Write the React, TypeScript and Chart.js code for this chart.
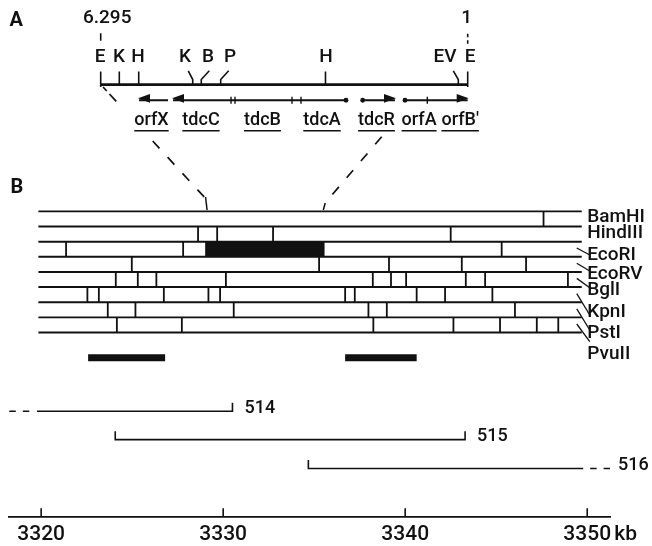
import { useEffect, useRef } from "react";
import { Chart, registerables } from "chart.js";

Chart.register(...registerables);

// ---------------- Panel B : genomic coordinate (kb) ----------------
const AXIS_TICKS = [3320, 3330, 3340, 3350];
const AXIS_UNIT = "kb";
const ENZYMES = ["BamHI", "HindIII", "EcoRI", "EcoRV", "BglI", "KpnI", "PstI", "PvuII"];
const MAP_SPAN = [3319.85, 3349.7];
const BAMHI = [3347.6];
const HINDIII = [3328.62, 3329.67, 3332.74, 3342.5];
const ECORI = [3321.37, 3327.8, 3329.06, 3335.52, 3345.3];
const ECORV = [3324.98, 3335.27, 3339.11, 3343.11, 3346.64];
const BGLI = [3324.1, 3325.31, 3326.33, 3330.15, 3338.22, 3339.22, 3340.05, 3343.33, 3344.39, 3348.94];
const KPNI = [3322.54, 3323.17, 3326.74, 3329.19, 3329.83, 3336.7, 3337.23, 3340.63, 3342.19, 3344.79];
const PSTI = [3323.66, 3325.18, 3330.58, 3337.98, 3338.99, 3346.03];
const PVUII = [3324.16, 3327.73, 3338.25, 3342.65, 3345.21, 3347.23, 3348.41];
const SITES_BY_ENZYME = [BAMHI, HINDIII, ECORI, ECORV, BGLI, KPNI, PSTI, PVUII];
const TDC_FRAGMENT = [3329.06, 3335.52]; // 6.295 kb EcoRI fragment (filled)
const PROBES = [[3322.58, 3326.81], [3336.7, 3340.63]];
const CLONES = ["514", "515", "516"];
const CLONE_SPANS = [[3319.77, 3330.51], [3324.07, 3343.29], [3334.68, 3349.78]];
const CLONE_EXTENSIONS: (number[] | null)[] = [[3318.25, 3319.4], null, [3350.16, 3351.25]];

// ---------------- Panel A : 6.295 kb fragment (bp, 6295 -> 1) ----------------
const FRAGMENT_BP = [6295, 1];
const FRAGMENT_END_LABELS = ["6.295", "1"];
const SITE_NAMES = ["E", "K", "H", "K", "B", "P", "H", "EV", "E"];
const SITE_BP = [6295, 5976, 5643, 4717, 4570, 4237, 2440, 162, 1];
const SITE_LABEL_BP = [6307, 5981, 5655, 4849, 4455, 4078, 2431, 390, -39];
const SITE_TICK_TOP_BP = [6295, 5976, 5643, 4793, 4433, 4100, 2440, 248, 1];
const GENES = ["orfX", "tdcC", "tdcB", "tdcA", "tdcR", "orfA", "orfB\u2032"];
const GENE_LABEL_BP = [5424, 4575, 3520, 2500, 1565, 835, 130];
const TRANSCRIPT_FROM = [5141, 2088, 1802, 1076];
const TRANSCRIPT_TO = [5638, 5055, 1248, 1];
const TRANSCRIPT_DOT = [false, true, true, true];
const GENE_BOUNDARIES = [4060, 3992, 3014, 2860, 694];
const CONNECTOR_FROM_BP = [6255, 1476];

// ---------------- layout (pixels) ----------------
const W = 652;
const H = 546;
const AXIS_Y = 516.7;
const PAD_LEFT = 9.3;
const PAD_RIGHT = 41.3;
const X_RANGE = [3318.25, 3351.29];
const XA_RANGE = [-2451.4, 7862.5];
const INK = "#111";
const FONT = 'Roboto, "Liberation Sans", sans-serif';
const WEIGHT = "500";
const Y = {
  endLabel: 18,
  endTickTop: 31,
  endTickBottom: 38.5,
  siteLabel: 57,
  siteTickTop: 69.5,
  siteBend: 77.5,
  fragment: 82.7,
  fragEndBottom: 85,
  transcript: 98.3,
  geneLabel: 120,
  geneUnderline: 130.7,
  rowTop: 210,
  rowH: 15.2,
  probe: 357,
  clones: [410.7, 439.3, 468.3],
};
const ENZ_LABEL_Y = [217.5, 233, 255.5, 274, 290.5, 312.5, 333, 354];
const LEADER_END_Y: (number | null)[] = [null, null, 255, 271, 287.7, 315, 330, 341.7];

type P = { x: number; y: number };
const GAP: P = { x: NaN, y: NaN };
function polyData(lines: P[][]): P[] {
  const out: P[] = [];
  lines.forEach((l, i) => {
    if (i) out.push(GAP);
    out.push(...l);
  });
  return out;
}
function lineSet(xAxisID: string, lines: P[][], width: number, dash: number[] = []) {
  return {
    type: "scatter" as const,
    xAxisID,
    yAxisID: "y",
    data: polyData(lines),
    showLine: true,
    borderColor: INK,
    backgroundColor: INK,
    borderWidth: width,
    borderDash: dash,
    pointRadius: 0,
    pointHoverRadius: 0,
    clip: false as any,
    spanGaps: false,
    fill: false,
  };
}

const rowLineY = (i: number) => Y.rowTop + i * Y.rowH;
const rowCenter = (i: number) => Y.rowTop + (i + 0.5) * Y.rowH;

function buildDatasets() {
  const ds: any[] = [];
  // ---- Panel A ----
  ds.push(lineSet("xa", [[{ x: FRAGMENT_BP[0], y: Y.fragment }, { x: FRAGMENT_BP[1], y: Y.fragment }]], 2.8));
  ds.push(lineSet("xa", [[{ x: FRAGMENT_BP[0], y: Y.endTickTop }, { x: FRAGMENT_BP[0], y: Y.endTickBottom }]], 1.6));
  ds.push(lineSet("xa", [[{ x: FRAGMENT_BP[1], y: Y.endTickTop + 0.5 }, { x: FRAGMENT_BP[1], y: Y.endTickBottom + 3.5 }]], 1.6, [3.5, 3]));
  const siteLines = SITE_BP.map((bp, i) => {
    const isEnd = i === 0 || i === SITE_BP.length - 1;
    const bottom = isEnd ? Y.fragEndBottom : Y.fragment;
    const top = SITE_TICK_TOP_BP[i];
    if (Math.abs(top - bp) < 1) return [{ x: bp, y: Y.siteTickTop }, { x: bp, y: bottom }];
    return [{ x: top, y: Y.siteTickTop - 0.8 }, { x: bp, y: Y.siteBend }, { x: bp, y: bottom }];
  });
  ds.push(lineSet("xa", siteLines, 1.6));
  ds.push(lineSet("xa", TRANSCRIPT_FROM.map((f, i) => [{ x: f, y: Y.transcript }, { x: TRANSCRIPT_TO[i], y: Y.transcript }]), 2.2));
  ds.push(lineSet("xa", GENE_BOUNDARIES.map((b) => [{ x: b, y: Y.transcript - 3.6 }, { x: b, y: Y.transcript + 3.6 }]), 1.4));
  ds.push({
    type: "scatter",
    xAxisID: "xa",
    yAxisID: "y",
    data: TRANSCRIPT_FROM.filter((_, i) => TRANSCRIPT_DOT[i]).map((x) => ({ x, y: Y.transcript })),
    showLine: false,
    pointRadius: 2.4,
    pointHoverRadius: 2.4,
    pointBackgroundColor: INK,
    pointBorderWidth: 0,
    clip: false,
  });

  // ---- Panel B: restriction map ----
  ds.push(lineSet("x", Array.from({ length: ENZYMES.length + 1 }, (_, i) => [
    { x: MAP_SPAN[0], y: rowLineY(i) }, { x: MAP_SPAN[1], y: rowLineY(i) },
  ]), 1.9));
  const dividers: P[][] = [];
  SITES_BY_ENZYME.forEach((sites, i) => sites.forEach((s) => dividers.push([{ x: s, y: rowLineY(i) }, { x: s, y: rowLineY(i + 1) }])));
  ds.push(lineSet("x", dividers, 1.8));
  ds.push(lineSet("x", [[{ x: TDC_FRAGMENT[0], y: rowCenter(2) }, { x: TDC_FRAGMENT[1], y: rowCenter(2) }]], Y.rowH));
  ds.push(lineSet("x", PROBES.map(([a, b]) => [{ x: a, y: Y.probe }, { x: b, y: Y.probe }]), 7));

  // ---- clones ----
  const cloneLines: P[][] = [];
  const cloneExt: P[][] = [];
  CLONE_SPANS.forEach(([a, b], i) => {
    const y = Y.clones[i];
    const ext = CLONE_EXTENSIONS[i];
    const leftOpen = !!ext && ext[1] <= a;
    const rightOpen = !!ext && ext[0] >= b;
    const pts: P[] = [];
    if (!leftOpen) pts.push({ x: a, y: y - 8.5 });
    pts.push({ x: a, y }, { x: b, y });
    if (!rightOpen) pts.push({ x: b, y: y - 8.5 });
    cloneLines.push(pts);
    if (ext) cloneExt.push([{ x: ext[0], y }, { x: ext[1], y }]);
  });
  ds.push(lineSet("x", cloneLines, 1.6));
  ds.push(lineSet("x", cloneExt, 1.6, [6.5, 7]));

  // ---- axis tick marks (pointing up) ----
  ds.push(lineSet("x", AXIS_TICKS.map((v) => [{ x: v, y: AXIS_Y }, { x: v, y: AXIS_Y - 8.5 }]), 1.6));
  return ds;
}

const annotations = {
  id: "annotations",
  afterDatasetsDraw(chart: any) {
    const { ctx } = chart;
    const sx = chart.scales.x;
    const sa = chart.scales.xa;
    const px = (v: number) => sx.getPixelForValue(v);
    const pa = (v: number) => sa.getPixelForValue(v);
    ctx.save();
    ctx.fillStyle = INK;
    ctx.strokeStyle = INK;
    const text = (s: string, x: number, y: number, size: number, align = "center", weight = WEIGHT) => {
      ctx.font = `${weight} ${size}px ${FONT}`;
      ctx.textAlign = align;
      ctx.textBaseline = "middle";
      ctx.fillText(s, x, y);
      return ctx.measureText(s).width;
    };
    const seg = (x0: number, y0: number, x1: number, y1: number, w: number, dash: number[] = []) => {
      ctx.setLineDash(dash);
      ctx.lineWidth = w;
      ctx.beginPath();
      ctx.moveTo(x0, y0);
      ctx.lineTo(x1, y1);
      ctx.stroke();
      ctx.setLineDash([]);
    };

    // panel letters
    text("A", 9.5, 21, 20, "left", "bold");
    text("B", 10.5, 188, 20, "left", "bold");

    // fragment end labels & restriction sites
    text(FRAGMENT_END_LABELS[0], pa(FRAGMENT_BP[0]) + 6.5, Y.endLabel, 19);
    text(FRAGMENT_END_LABELS[1], pa(FRAGMENT_BP[1]) - 1, Y.endLabel, 19);
    SITE_NAMES.forEach((n, i) => text(n, pa(SITE_LABEL_BP[i]), Y.siteLabel, 19));

    // arrowheads
    TRANSCRIPT_TO.forEach((to, i) => {
      const tip = pa(to);
      const dir = Math.sign(tip - pa(TRANSCRIPT_FROM[i]));
      ctx.beginPath();
      ctx.moveTo(tip + dir, Y.transcript);
      ctx.lineTo(tip - dir * 11, Y.transcript - 4.4);
      ctx.lineTo(tip - dir * 11, Y.transcript + 4.4);
      ctx.closePath();
      ctx.fill();
    });

    // gene labels, underlined
    GENES.forEach((g, i) => {
      const cx = pa(GENE_LABEL_BP[i]);
      const w = text(g, cx, Y.geneLabel, 18);
      seg(cx - w / 2, Y.geneUnderline, cx + w / 2, Y.geneUnderline, 1.6);
    });

    // dashed connectors between the panels
    const dash = [10, 12];
    const l0x = pa(CONNECTOR_FROM_BP[0]), l0y = 87;
    const l1x = px(TDC_FRAGMENT[0]), l1y = 199;
    const at = (yy: number) => l0x + ((yy - l0y) / (l1y - l0y)) * (l1x - l0x);
    seg(at(94), 94, at(105), 105, 1.7, dash);
    seg(l0x, l0y, at(91), 91, 1.7);
    seg(at(141), 141, l1x, l1y, 1.7, dash);
    seg(l1x - 0.5, l1y - 2, l1x + 1, Y.rowTop, 1.5);
    const r0x = pa(CONNECTOR_FROM_BP[1]), r0y = 136.7;
    const r1x = px(TDC_FRAGMENT[1]) + 1.5, r1y = 203;
    seg(r0x, r0y, r1x, r1y, 1.7, dash);
    seg(r1x, r1y, r1x - 1.8, Y.rowTop, 1.5);

    // enzyme labels and leaders
    const mapEnd = px(MAP_SPAN[1]);
    ENZYMES.forEach((e, i) => {
      text(e, mapEnd + 5.5, ENZ_LABEL_Y[i], 19, "left");
      const ly = LEADER_END_Y[i];
      if (ly !== null) seg(mapEnd - 5, rowCenter(i), mapEnd + 8, ly, 1.3);
    });

    // clone labels
    CLONES.forEach((c, i) => {
      const ext = CLONE_EXTENSIONS[i];
      const right = ext && ext[0] >= CLONE_SPANS[i][1] ? ext[1] : CLONE_SPANS[i][1];
      const off = ext && ext[0] >= CLONE_SPANS[i][1] ? 8 : 12;
      text(c, px(right) + off, Y.clones[i] - 2.5, 18, "left");
    });

    // axis unit
    text(AXIS_UNIT, px(AXIS_TICKS[AXIS_TICKS.length - 1]) + 27, 535, 21, "left");
    ctx.restore();
  },
};

export default function App() {
  const ref = useRef<HTMLCanvasElement | null>(null);
  useEffect(() => {
    if (!ref.current) return;
    const chart = new Chart(ref.current, {
      type: "scatter",
      data: { datasets: buildDatasets() },
      options: {
        animation: false,
        responsive: true,
        maintainAspectRatio: false,
        devicePixelRatio: 1,
        events: [],
        layout: { padding: { left: PAD_LEFT, right: PAD_RIGHT, top: 0, bottom: 0 } },
        plugins: { legend: { display: false }, tooltip: { enabled: false } },
        scales: {
          x: {
            type: "linear",
            position: "bottom",
            min: X_RANGE[0],
            max: X_RANGE[1],
            afterBuildTicks: (axis: any) => {
              axis.ticks = AXIS_TICKS.map((value) => ({ value }));
            },
            afterFit: (axis: any) => {
              axis.height = H - AXIS_Y;
            },
            grid: { display: false, drawTicks: false },
            border: { display: true, color: INK, width: 1.7 },
            ticks: {
              autoSkip: false,
              maxRotation: 0,
              padding: 5,
              color: INK,
              font: { family: FONT, size: 21, weight: WEIGHT },
              callback: (v: any) => String(v),
            },
          },
          xa: { type: "linear", display: false, reverse: true, min: XA_RANGE[0], max: XA_RANGE[1] },
          y: { type: "linear", display: false, reverse: true, min: 0, max: AXIS_Y },
        },
      } as any,
      plugins: [annotations],
    });
    return () => chart.destroy();
  }, []);
  return (
    <div style={{ position: "fixed", left: 0, top: 0, width: W, height: H, background: "#fff" }}>
      <canvas ref={ref} />
    </div>
  );
}
